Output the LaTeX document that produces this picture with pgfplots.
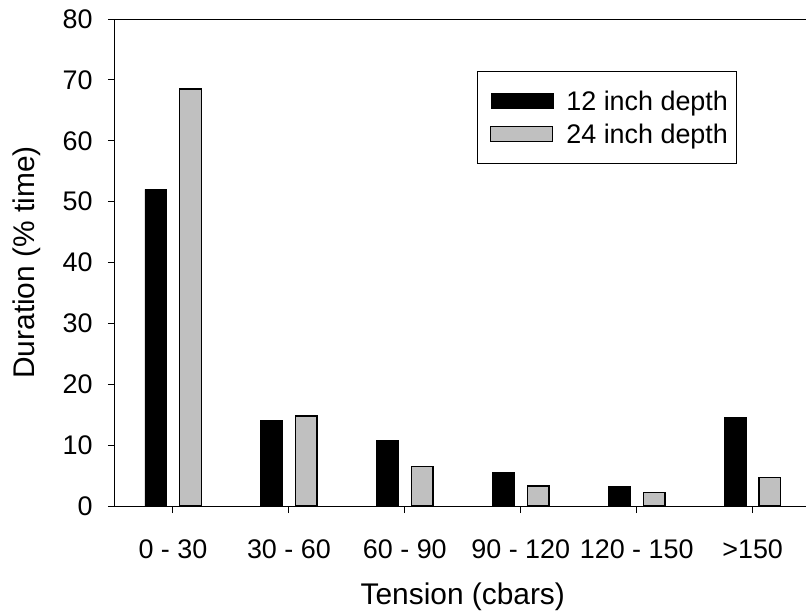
\documentclass[border=0pt]{standalone}
\usepackage{fontspec}
\setmainfont{Liberation Sans}
\usepackage{pgfplots}
\pgfplotsset{compat=1.18}
\definecolor{barGray}{RGB}{192,192,192}
\begin{document}
\begin{tikzpicture}
\begin{axis}[
  at={(0bp,0bp)}, anchor=south west,
  width=695.6bp, height=487bp, scale only axis,
  xmin=-0.5, xmax=5.5, ymin=0, ymax=80,
  ybar=13bp, bar width=21.7bp,
  xtick={0,1,2,3,4,5},
  xticklabels={0 - 30, 30 - 60, 60 - 90, 90 - 120, 120 - 150, >150},
  ytick={0,10,...,80},
  tick align=outside, tick pos=left,
  major tick length=7bp,
  axis line style={line width=1bp},
  every tick/.style={black, line width=1bp},
  /pgf/number format/assume math mode=true,
  tick label style={font=\fontsize{27}{27}\selectfont},
  xticklabel style={anchor=center, at={(axis cs:\tick,0)}, yshift=-36bp},
  yticklabel style={anchor=east, xshift=-12bp},
  xlabel={Tension (cbars)}, ylabel={Duration (\% time)},
  label style={font=\fontsize{30}{30}\selectfont},
  xlabel style={at={(rel axis cs:0.5,0)}, anchor=center, yshift=-91bp},
  ylabel style={at={([xshift=-88bp]rel axis cs:0,0.5)}, anchor=center},
  legend image code/.code={\path (0bp,0bp); \draw[#1] (5bp,-7.5bp) rectangle (67bp,7.5bp);},
  legend cell align=left,
  legend style={at={(0.520,0.8926)}, anchor=north west, draw=black, line width=0.8bp,
    font=\fontsize{27}{27}\selectfont, inner xsep=8bp, inner ysep=19bp,
    nodes={inner sep=0pt}, row sep=12bp, column sep=13bp},
]
\addplot[fill=black, draw=black, line width=0.5bp] coordinates {(0,52.0) (1,14.1) (2,10.8) (3,5.5) (4,3.2) (5,14.6)};
\addplot[fill=barGray, draw=black, line width=1.3bp] coordinates {(0,68.5) (1,14.8) (2,6.45) (3,3.3) (4,2.2) (5,4.7)};
\legend{12 inch depth, 24 inch depth}
\end{axis}
\pgfresetboundingbox
\useasboundingbox (-115bp,-109bp) rectangle (691bp,506bp);
\end{tikzpicture}
\end{document}
